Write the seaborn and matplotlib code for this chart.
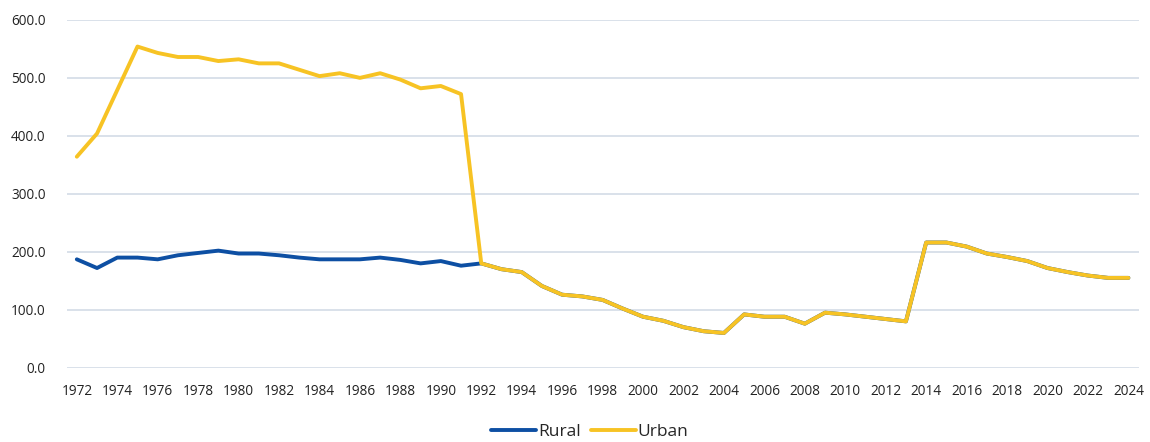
import pandas as pd
import matplotlib.pyplot as plt
import seaborn as sns

# Data
years = list(range(1972, 2025))

rural = [187, 172, 190, 190, 187, 194, 198, 202, 197, 197,
         194, 190, 187, 187, 187, 190, 186, 180, 184, 176,
         180, 170, 165, 141, 126, 123, 117, 102, 88, 81,
         70, 63, 60, 92, 88, 88, 76, 95, 92, 88,
         84, 80, 216, 216, 209, 197, 191, 184, 172, 165,
         159, 155, 155]

urban = [364, 404, 479, 554, 543, 536, 536, 529, 532, 525,
         525, 514, 503, 508, 500, 508, 497, 482, 486, 472,
         180, 170, 165, 141, 126, 123, 117, 102, 88, 81,
         70, 63, 60, 92, 88, 88, 76, 95, 92, 88,
         84, 80, 216, 216, 209, 197, 191, 184, 172, 165,
         159, 155, 155]

df = pd.DataFrame({"Year": years * 2,
                   "Value": rural + urban,
                   "Area": ["Rural"] * len(years) + ["Urban"] * len(years)})

sns.set_style("white")
plt.rcParams["font.family"] = ["Open Sans", "DejaVu Sans"]

fig, ax = plt.subplots(figsize=(11.5, 4.42), dpi=100)
fig.subplots_adjust(left=0.058, right=0.99, top=0.955, bottom=0.168)

sns.lineplot(data=df, x="Year", y="Value", hue="Area",
             palette={"Rural": "#0D4FA3", "Urban": "#F7C324"},
             linewidth=2.8, ax=ax)

ax.set_xlim(1971.5, 2024.5)
ax.set_ylim(0, 600)
ax.set_xticks(range(1972, 2025, 2))
ax.set_yticks(range(0, 601, 100))
ax.set_yticklabels([f"{v:.1f}" for v in range(0, 601, 100)])
ax.grid(axis="y", color="#D3DCE6", linewidth=1.2)
ax.set_axisbelow(True)
for s in ax.spines.values():
    s.set_visible(False)
ax.tick_params(axis="both", length=0, labelsize=9.8, colors="#222222")
ax.tick_params(axis="x", pad=12)
ax.tick_params(axis="y", pad=15)
ax.set_xlabel("")
ax.set_ylabel("")

handles, labels = ax.get_legend_handles_labels()
ax.legend(handles, labels, loc="center", bbox_to_anchor=(0.488, -0.185),
          ncol=2, frameon=False, fontsize=12.5, handlelength=2.6,
          handletextpad=0.1, columnspacing=0.6, borderaxespad=0)

plt.savefig("out.png")
